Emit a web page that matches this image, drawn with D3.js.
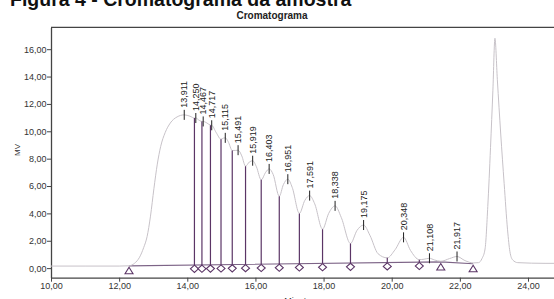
<!DOCTYPE html>
<html>
<head>
<meta charset="utf-8">
<script src="https://cdn.jsdelivr.net/npm/d3@7"></script>
<style>
  body { margin: 0; background: #fff; }
  text { font-family: "Liberation Sans", Arial, sans-serif; }
</style>
</head>
<body>
<div id="chart-area"></div>
<script>
// chromatogram signal (minutes, MV)
const signalTime = [10.0, 11.0, 12.0, 12.29, 12.45, 12.6, 12.72, 12.82, 12.92, 13.02, 13.12, 13.22, 13.35, 13.5, 13.7,
  13.911, 14.08, 14.21, 14.25, 14.35, 14.43, 14.467, 14.58, 14.68, 14.717, 14.85, 14.99, 15.06, 15.115, 15.2,
  15.32, 15.42, 15.491, 15.6, 15.71, 15.82, 15.919, 16.03, 16.17, 16.3, 16.403, 16.52, 16.70, 16.82, 16.951,
  17.08, 17.29, 17.45, 17.591, 17.74, 17.97, 18.15, 18.338, 18.52, 18.79, 18.98, 19.175, 19.36, 19.6, 19.87,
  20.1, 20.348, 20.55, 20.81, 20.95, 21.108, 21.25, 21.44, 21.7, 21.917, 22.15, 22.39, 22.55, 22.65, 22.74,
  22.82, 22.9, 22.97, 23.03, 23.1, 23.2, 23.3, 23.4, 23.47, 23.55, 23.7, 24.5, 25.6];
const signalMV = [0.15, 0.15, 0.15, 0.17, 0.35, 0.8, 1.5, 2.3, 3.8, 5.8, 7.6, 8.9, 9.9, 10.6, 11.05,
  11.2, 11.1, 10.97, 10.97, 10.8, 10.72, 10.72, 10.6, 10.45, 10.44, 9.9, 9.42, 9.5, 9.52, 9.25,
  8.6, 8.6, 8.62, 8.2, 7.45, 7.75, 7.85, 7.4, 6.45, 7.0, 7.25, 6.85, 5.25, 6.1, 6.5,
  5.9, 4.0, 4.95, 5.3, 4.7, 2.85, 4.0, 4.55, 3.7, 1.8, 2.75, 3.15, 2.4, 1.05, 0.75,
  1.35, 2.25, 1.3, 0.62, 0.65, 0.72, 0.6, 0.5, 0.7, 0.85, 0.55, 0.38, 0.4, 0.7, 1.4,
  4.5, 8.8, 13.0, 16.8, 13.8, 9.8, 6.2, 2.8, 1.2, 0.6, 0.4, 0.35, 0.35];

// labelled peaks (retention time, minutes)
const peakTimes = [13.911, 14.250, 14.467, 14.717, 15.115, 15.491, 15.919, 16.403, 16.951,
  17.591, 18.338, 19.175, 20.348, 21.108, 21.917];

// drop lines between peaks (diamonds) and baseline ends (triangles)
const dropTimes = [14.21, 14.43, 14.68, 14.99, 15.32, 15.71, 16.17, 16.70, 17.29, 17.97, 18.79, 19.87, 20.81];
const baseTimes = [12.29, 21.44, 22.39];
const baseMV = [0.17, 0.45, 0.32];

// axis ticks
const xTicks = [10, 12, 14, 16, 18, 20, 22, 24];
const yTicks = [0, 2, 4, 6, 8, 10, 12, 14, 16];

let W = 554, H = 299;
let purple = "#5b3566";

let svg = d3.select("#chart-area")
    .append("svg")
    .attr("width", W)
    .attr("height", H);

// decimal comma
let loc = d3.formatLocale({decimal: ",", thousands: ".", grouping: [3], currency: ["", ""]});
let f2 = loc.format(".2f");
let f3 = loc.format(".3f");

let x = d3.scaleLinear().domain([10, 25.6]).range([51, 582.5]);
let y = d3.scaleLinear().domain([-0.7, 17.6]).range([277.7, 27.3]);

let sig = new Map(signalTime.map((t, i) => [t, signalMV[i]]));
let base = d3.scaleLinear().domain(baseTimes).range(baseMV);

// caption above the chart (only the bottom shows)
svg.append("text")
    .attr("x", 10).attr("y", 6)
    .attr("font-size", "19.5px").attr("font-weight", "bold")
    .attr("fill", "#111")
    .text("Figura 4 - Cromatograma da amostra");

// title
svg.append("text")
    .attr("x", 272).attr("y", 19)
    .attr("text-anchor", "middle")
    .attr("font-size", "10px").attr("font-weight", "bold")
    .attr("fill", "#222")
    .text("Cromatograma");

// frame top
svg.append("line")
    .attr("x1", x(10)).attr("x2", W + 5)
    .attr("y1", y(17.6)).attr("y2", y(17.6))
    .attr("stroke", "#444").attr("stroke-width", 1.3);

// Axis
let minorX = d3.range(10, 25.6, 0.5);
let minorY = d3.range(-0.5, 17.6, 0.5);

let gx = svg.append("g").attr("transform", "translate(0," + y(-0.7) + ")");
gx.call(d3.axisBottom(x).tickValues(minorX).tickSize(2.5).tickFormat("").tickSizeOuter(0));
gx.call(d3.axisBottom(x).tickValues(xTicks).tickSize(4).tickFormat(f2).tickSizeOuter(0));

let gy = svg.append("g").attr("transform", "translate(" + x(10) + ",0)");
gy.call(d3.axisLeft(y).tickValues(minorY).tickSize(2.5).tickFormat("").tickSizeOuter(0));
gy.call(d3.axisLeft(y).tickValues(yTicks).tickSize(4).tickFormat(f2).tickSizeOuter(0));

svg.selectAll(".domain").attr("stroke", "#444").attr("stroke-width", 1.3);
svg.selectAll(".tick line").attr("stroke", "#444");
svg.selectAll(".tick text")
    .attr("font-family", "Liberation Sans, Arial, sans-serif")
    .attr("font-size", "9px").attr("fill", "#333");
gy.selectAll(".tick text").attr("x", -4.5);
gx.selectAll(".tick text").attr("y", 5);

// axis labels
svg.append("text")
    .attr("x", 300).attr("y", 304)
    .attr("text-anchor", "middle")
    .attr("font-size", "9px").attr("fill", "#333")
    .text("Minutos");

svg.append("text")
    .attr("transform", "translate(20,150) rotate(-90)")
    .attr("text-anchor", "middle")
    .attr("font-size", "8px").attr("fill", "#333")
    .text("MV");

// clip to plot area
svg.append("clipPath").attr("id", "clip")
  .append("rect")
    .attr("x", x(10)).attr("y", y(17.6))
    .attr("width", x(25.6) - x(10)).attr("height", y(-0.7) - y(17.6));

let plot = svg.append("g").attr("clip-path", "url(#clip)");

// integration baseline
plot.append("path")
    .datum(baseTimes)
    .attr("d", d3.line().x(d => x(d)).y(d => y(base(d))))
    .attr("fill", "none")
    .attr("stroke", "#7d6487").attr("stroke-width", 1.2);

// signal
let line = d3.line()
    .x((d, i) => x(signalTime[i]))
    .y(d => y(d))
    .curve(d3.curveMonotoneX);

plot.append("path")
    .datum(signalMV)
    .attr("d", line)
    .attr("fill", "none")
    .attr("stroke", "#c7c2c8").attr("stroke-width", 1);

// drop lines
plot.selectAll(".drop")
    .data(dropTimes)
    .enter().append("line")
    .attr("class", "drop")
    .attr("x1", d => x(d)).attr("x2", d => x(d))
    .attr("y1", d => y(base(d))).attr("y2", d => y(sig.get(d)))
    .attr("stroke", purple).attr("stroke-width", 1.2);

// diamonds
plot.selectAll(".diamond")
    .data(dropTimes)
    .enter().append("path")
    .attr("class", "diamond")
    .attr("d", "M0,-3.6L4,0L0,3.6L-4,0Z")
    .attr("transform", d => "translate(" + x(d) + "," + (y(base(d)) + 3.8) + ")")
    .attr("fill", "#fff").attr("stroke", purple).attr("stroke-width", 1.1);

// triangles
plot.selectAll(".tri")
    .data(baseTimes)
    .enter().append("path")
    .attr("class", "tri")
    .attr("d", "M0,0L4,6.5L-4,6.5Z")
    .attr("transform", d => "translate(" + x(d) + "," + (y(base(d)) + 1.5) + ")")
    .attr("fill", "#fff").attr("stroke", purple).attr("stroke-width", 1.1);

// peak ticks and labels
let pk = svg.selectAll(".peak")
    .data(peakTimes)
    .enter().append("g")
    .attr("class", "peak")
    .attr("transform", d => "translate(" + x(d) + "," + y(sig.get(d)) + ")");

pk.append("line")
    .attr("y1", 5).attr("y2", -5)
    .attr("stroke", "#222").attr("stroke-width", 1);

pk.append("text")
    .attr("transform", "translate(0,-7) rotate(-90)")
    .attr("dy", "0.35em")
    .attr("font-size", "9px").attr("fill", "#222")
    .text(d => f3(d));
</script>
</body>
</html>
